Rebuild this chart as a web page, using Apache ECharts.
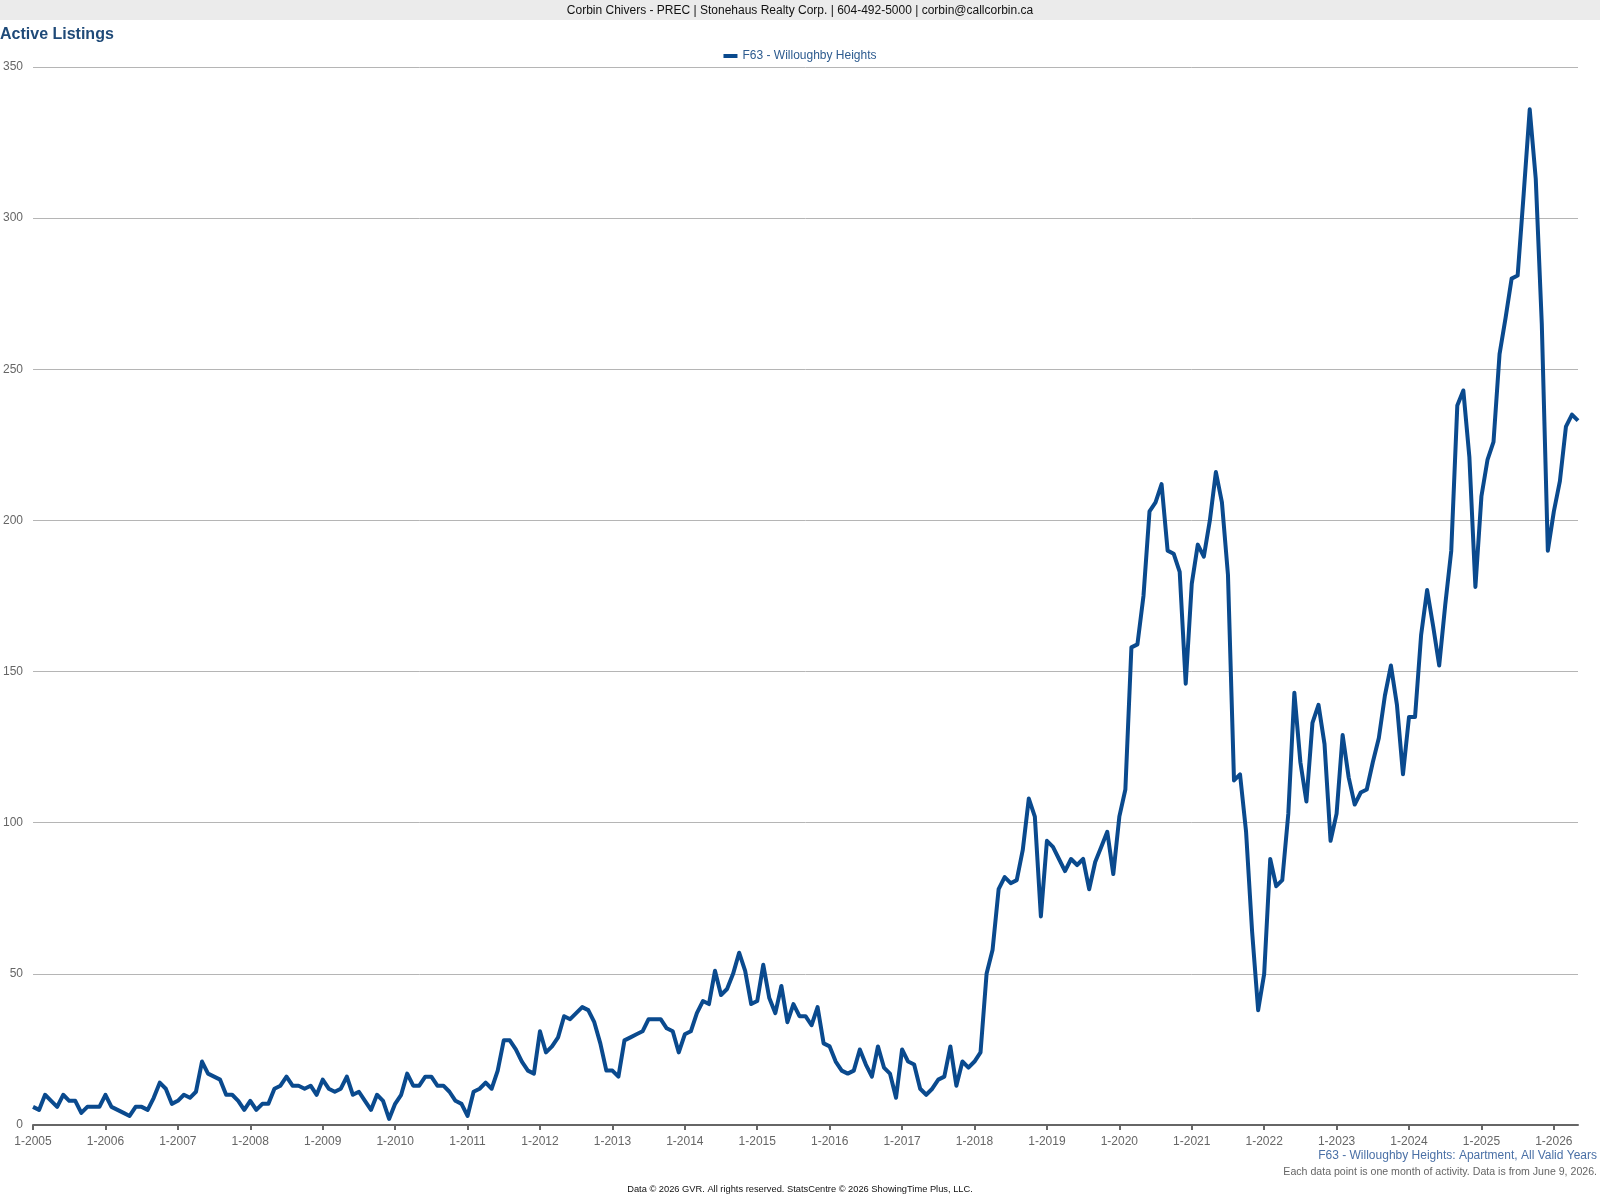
<!DOCTYPE html>
<html>
<head>
<meta charset="utf-8">
<title>Active Listings</title>
<script src="https://cdn.jsdelivr.net/npm/echarts@6/dist/echarts.min.js"></script>
<style>
	html, body { margin: 0; padding: 0; background: #fff; }
	#chart-1 { width: 1600px; height: 1200px; }
</style>
</head>
<body>
<div id="chart-1"></div>
<script>
// monthly active listings, 1-2005 .. 5-2026
var firstYear = 2005;
var seriesName = 'F63 - Willoughby Heights';

var y2005 = [6, 5, 10, 8, 6, 10, 8, 8, 4, 6, 6, 6];
var y2006 = [10, 6, 5, 4, 3, 6, 6, 5, 9, 14, 12, 7];
var y2007 = [8, 10, 9, 11, 21, 17, 16, 15, 10, 10, 8, 5];
var y2008 = [8, 5, 7, 7, 12, 13, 16, 13, 13, 12, 13, 10];
var y2009 = [15, 12, 11, 12, 16, 10, 11, 8, 5, 10, 8, 2];
var y2010 = [7, 10, 17, 13, 13, 16, 16, 13, 13, 11, 8, 7];
var y2011 = [3, 11, 12, 14, 12, 18, 28, 28, 25, 21, 18, 17];
var y2012 = [31, 24, 26, 29, 36, 35, 37, 39, 38, 34, 27, 18];
var y2013 = [18, 16, 28, 29, 30, 31, 35, 35, 35, 32, 31, 24];
var y2014 = [30, 31, 37, 41, 40, 51, 43, 45, 50, 57, 51, 40];
var y2015 = [41, 53, 42, 37, 46, 34, 40, 36, 36, 33, 39, 27];
var y2016 = [26, 21, 18, 17, 18, 25, 20, 16, 26, 19, 17, 9];
var y2017 = [25, 21, 20, 12, 10, 12, 15, 16, 26, 13, 21, 19];
var y2018 = [21, 24, 50, 58, 78, 82, 80, 81, 91, 108, 102, 69];
var y2019 = [94, 92, 88, 84, 88, 86, 88, 78, 87, 92, 97, 83];
var y2020 = [102, 111, 158, 159, 175, 203, 206, 212, 190, 189, 183, 146];
var y2021 = [179, 192, 188, 200, 216, 206, 182, 114, 116, 97, 64, 38];
var y2022 = [50, 88, 79, 81, 103, 143, 120, 107, 133, 139, 126, 94];
var y2023 = [103, 129, 115, 106, 110, 111, 120, 128, 142, 152, 139, 116];
var y2024 = [135, 135, 162, 177, 165, 152, 172, 190, 238, 243, 221, 178];
var y2025 = [208, 220, 226, 255, 267, 280, 281, 308, 336, 313, 265, 190];
var y2026 = [203, 213, 231, 235, 233];

var yearly = [y2005, y2006, y2007, y2008, y2009, y2010, y2011, y2012, y2013, y2014, y2015,
	y2016, y2017, y2018, y2019, y2020, y2021, y2022, y2023, y2024, y2025, y2026];

var categories = [];
var values = [];
for (var y = 0; y < yearly.length; y++) {
	for (var m = 0; m < yearly[y].length; m++) {
		categories.push((m + 1) + '-' + (firstYear + y));
		values.push(yearly[y][m]);
	}
}

var font = "'Liberation Sans', Arial, Helvetica, sans-serif";

function isJanuary(index) {
	return index % 12 === 0;
}

var myChart = echarts.init(document.getElementById('chart-1'));

var option = {
	animation: false,
	backgroundColor: '#fff',
	textStyle: { fontFamily: font },
	graphic: [{
		type: 'rect',
		left: 0,
		top: 0,
		shape: { width: 1600, height: 20 },
		style: { fill: '#ebebeb' },
		silent: true
	}],
	title: [{
		text: 'Corbin Chivers - PREC | Stonehaus Realty Corp. | 604-492-5000 | corbin@callcorbin.ca',
		left: 'center',
		top: 5,
		padding: 0,
		textStyle: { fontFamily: font, fontSize: 12, fontWeight: 'normal', color: '#111' }
	}, {
		text: 'Active Listings',
		left: 0,
		top: 27,
		padding: 0,
		textStyle: { fontFamily: font, fontSize: 16, fontWeight: 'bold', color: '#1f4a78' }
	}, {
		text: 'F63 - Willoughby Heights: Apartment, All Valid Years',
		right: 3,
		top: 1150,
		padding: 0,
		textStyle: { fontFamily: font, fontSize: 12, fontWeight: 'normal', color: '#4a70a6' }
	}, {
		text: 'Each data point is one month of activity. Data is from June 9, 2026.',
		right: 3,
		top: 1167,
		padding: 0,
		textStyle: { fontFamily: font, fontSize: 10.6, fontWeight: 'normal', color: '#666' }
	}, {
		text: 'Data \u00a9 2026 GVR. All rights reserved. StatsCentre \u00a9 2026 ShowingTime Plus, LLC.',
		left: 'center',
		top: 1185,
		padding: 0,
		textStyle: { fontFamily: font, fontSize: 9.3, fontWeight: 'normal', color: '#111' }
	}],
	legend: {
		data: [seriesName],
		top: 45,
		left: 'center',
		icon: 'rect',
		itemWidth: 14,
		itemHeight: 4,
		textStyle: { fontFamily: font, fontSize: 12, color: '#2d5b8f' }
	},
	grid: {
		left: 32,
		right: 22,
		top: 67,
		bottom: 75
	},
	xAxis: {
		type: 'category',
		boundaryGap: false,
		data: categories,
		axisLine: { lineStyle: { color: '#666', width: 2 } },
		axisTick: { show: true, interval: isJanuary, length: 5, lineStyle: { color: '#666', width: 2 } },
		axisLabel: {
			interval: isJanuary,
			color: '#666',
			fontSize: 12,
			fontFamily: font,
			margin: 11
		},
		splitLine: { show: false }
	},
	yAxis: {
		type: 'value',
		min: 0,
		max: 350,
		interval: 50,
		axisLine: { show: false },
		axisTick: { show: false },
		axisLabel: { color: '#666', fontSize: 12, fontFamily: font, margin: 10, lineHeight: 12, padding: [7, 0, 0, 0] },
		splitLine: { lineStyle: { color: '#b5b5b5', width: 1 } }
	},
	series: [{
		name: seriesName,
		type: 'line',
		data: values,
		showSymbol: false,
		smooth: false,
		lineStyle: { width: 4, color: '#0a4a8e', join: 'round' },
		itemStyle: { color: '#0a4a8e' }
	}]
};

myChart.setOption(option);
</script>
</body>
</html>
